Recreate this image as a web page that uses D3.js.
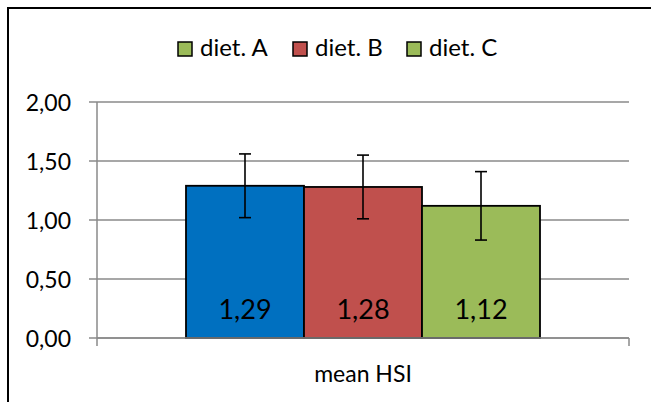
<!DOCTYPE html>
<html>
<head>
<meta charset="utf-8">
<script src="https://cdn.jsdelivr.net/npm/d3@7"></script>
<style>
  html, body { margin: 0; padding: 0; background: #fff; }
  svg { display: block; font-family: Lato, "Noto Sans", sans-serif; }
</style>
</head>
<body>
<svg id="chart" width="651" height="402"></svg>
<script>
// ---- data ----
const categories = ["mean HSI"];
const seriesNames = ["diet. A", "diet. B", "diet. C"];
const seriesValues = [1.29, 1.28, 1.12];
const seriesErrors = [0.27, 0.27, 0.29];
const seriesColors = ["#0070C0", "#C0504D", "#9BBB59"];
const legendColors = ["#9BBB59", "#C0504D", "#9BBB59"];
const yTicks = [0, 0.5, 1, 1.5, 2];

const fmt = v => d3.format(".2f")(v).replace(".", ",");

const svg = d3.select("#chart");
const W = 651, H = 402;
const plot = { left: 97, right: 629, top: 102, bottom: 338 };

// outer frame (extends beyond right and bottom edges)
svg.append("path")
  .attr("d", `M8,${H + 5} L8,8 L${W + 5},8`)
  .attr("fill", "none").attr("stroke", "#000").attr("stroke-width", 2);

const y = d3.scaleLinear().domain([0, 2]).range([plot.bottom, plot.top]);
const x0 = d3.scaleBand().domain(categories).range([plot.left, plot.right])
  .paddingInner(0).paddingOuter(0.2514);
const x1 = d3.scaleBand().domain(seriesNames).range([0, x0.bandwidth()]).padding(0);

// gridlines
svg.append("g").selectAll("line").data(yTicks).join("line")
  .attr("x1", plot.left - 8).attr("x2", plot.right)
  .attr("y1", d => y(d)).attr("y2", d => y(d))
  .attr("stroke", "#8a8a8a").attr("stroke-width", 1.5);

// y axis line
svg.append("line")
  .attr("x1", plot.left).attr("x2", plot.left)
  .attr("y1", y(2)).attr("y2", plot.bottom + 8)
  .attr("stroke", "#8a8a8a").attr("stroke-width", 1.5);
// right x tick
svg.append("line")
  .attr("x1", plot.right).attr("x2", plot.right)
  .attr("y1", plot.bottom).attr("y2", plot.bottom + 8)
  .attr("stroke", "#8a8a8a").attr("stroke-width", 1.5);

// y tick labels
svg.append("g").selectAll("text").data(yTicks).join("text")
  .attr("x", 71).attr("y", d => y(d))
  .attr("text-anchor", "end").attr("dominant-baseline", "central")
  .attr("font-size", 23).attr("fill", "#000")
  .text(d => fmt(d));

// bars
const barData = seriesNames.map((s, i) => ({ s, v: seriesValues[i], e: seriesErrors[i], c: seriesColors[i], cat: categories[0] }));
const g = svg.append("g");
g.selectAll("rect").data(barData).join("rect")
  .attr("x", d => x0(d.cat) + x1(d.s))
  .attr("y", d => y(d.v))
  .attr("width", x1.bandwidth())
  .attr("height", d => y(0) - y(d.v))
  .attr("fill", d => d.c)
  .attr("stroke", "#000").attr("stroke-width", 1.8);

// baseline redraw (gray, over bar bottoms)
svg.append("line")
  .attr("x1", plot.left).attr("x2", plot.right)
  .attr("y1", y(0)).attr("y2", y(0))
  .attr("stroke", "#8a8a8a").attr("stroke-width", 1.5);

// error bars
const eb = svg.append("g").attr("stroke", "#000").attr("stroke-width", 1.6);
barData.forEach(d => {
  const cx = x0(d.cat) + x1(d.s) + x1.bandwidth() / 2;
  eb.append("line").attr("x1", cx).attr("x2", cx).attr("y1", y(d.v + d.e)).attr("y2", y(d.v - d.e));
  eb.append("line").attr("x1", cx - 6).attr("x2", cx + 6).attr("y1", y(d.v + d.e)).attr("y2", y(d.v + d.e));
  eb.append("line").attr("x1", cx - 6).attr("x2", cx + 6).attr("y1", y(d.v - d.e)).attr("y2", y(d.v - d.e));
});

// value labels
svg.append("g").selectAll("text").data(barData).join("text")
  .attr("x", d => x0(d.cat) + x1(d.s) + x1.bandwidth() / 2)
  .attr("y", 319)
  .attr("text-anchor", "middle")
  .attr("font-size", 27).attr("fill", "#000")
  .text(d => fmt(d.v));

// x category label
svg.append("g").selectAll("text").data(categories).join("text")
  .attr("x", d => x0(d) + x0.bandwidth() / 2)
  .attr("y", 382)
  .attr("text-anchor", "middle")
  .attr("font-size", 23).attr("fill", "#000")
  .text(d => d);

// legend
const legendX = [178, 293, 407];
const lg = svg.append("g");
seriesNames.forEach((s, i) => {
  lg.append("rect").attr("x", legendX[i]).attr("y", 42).attr("width", 14).attr("height", 14)
    .attr("fill", legendColors[i]).attr("stroke", "#000").attr("stroke-width", 1.5);
  lg.append("text").attr("x", legendX[i] + 22).attr("y", 56)
    .attr("font-size", 24).attr("fill", "#000").text(s);
});
</script>
</body>
</html>
